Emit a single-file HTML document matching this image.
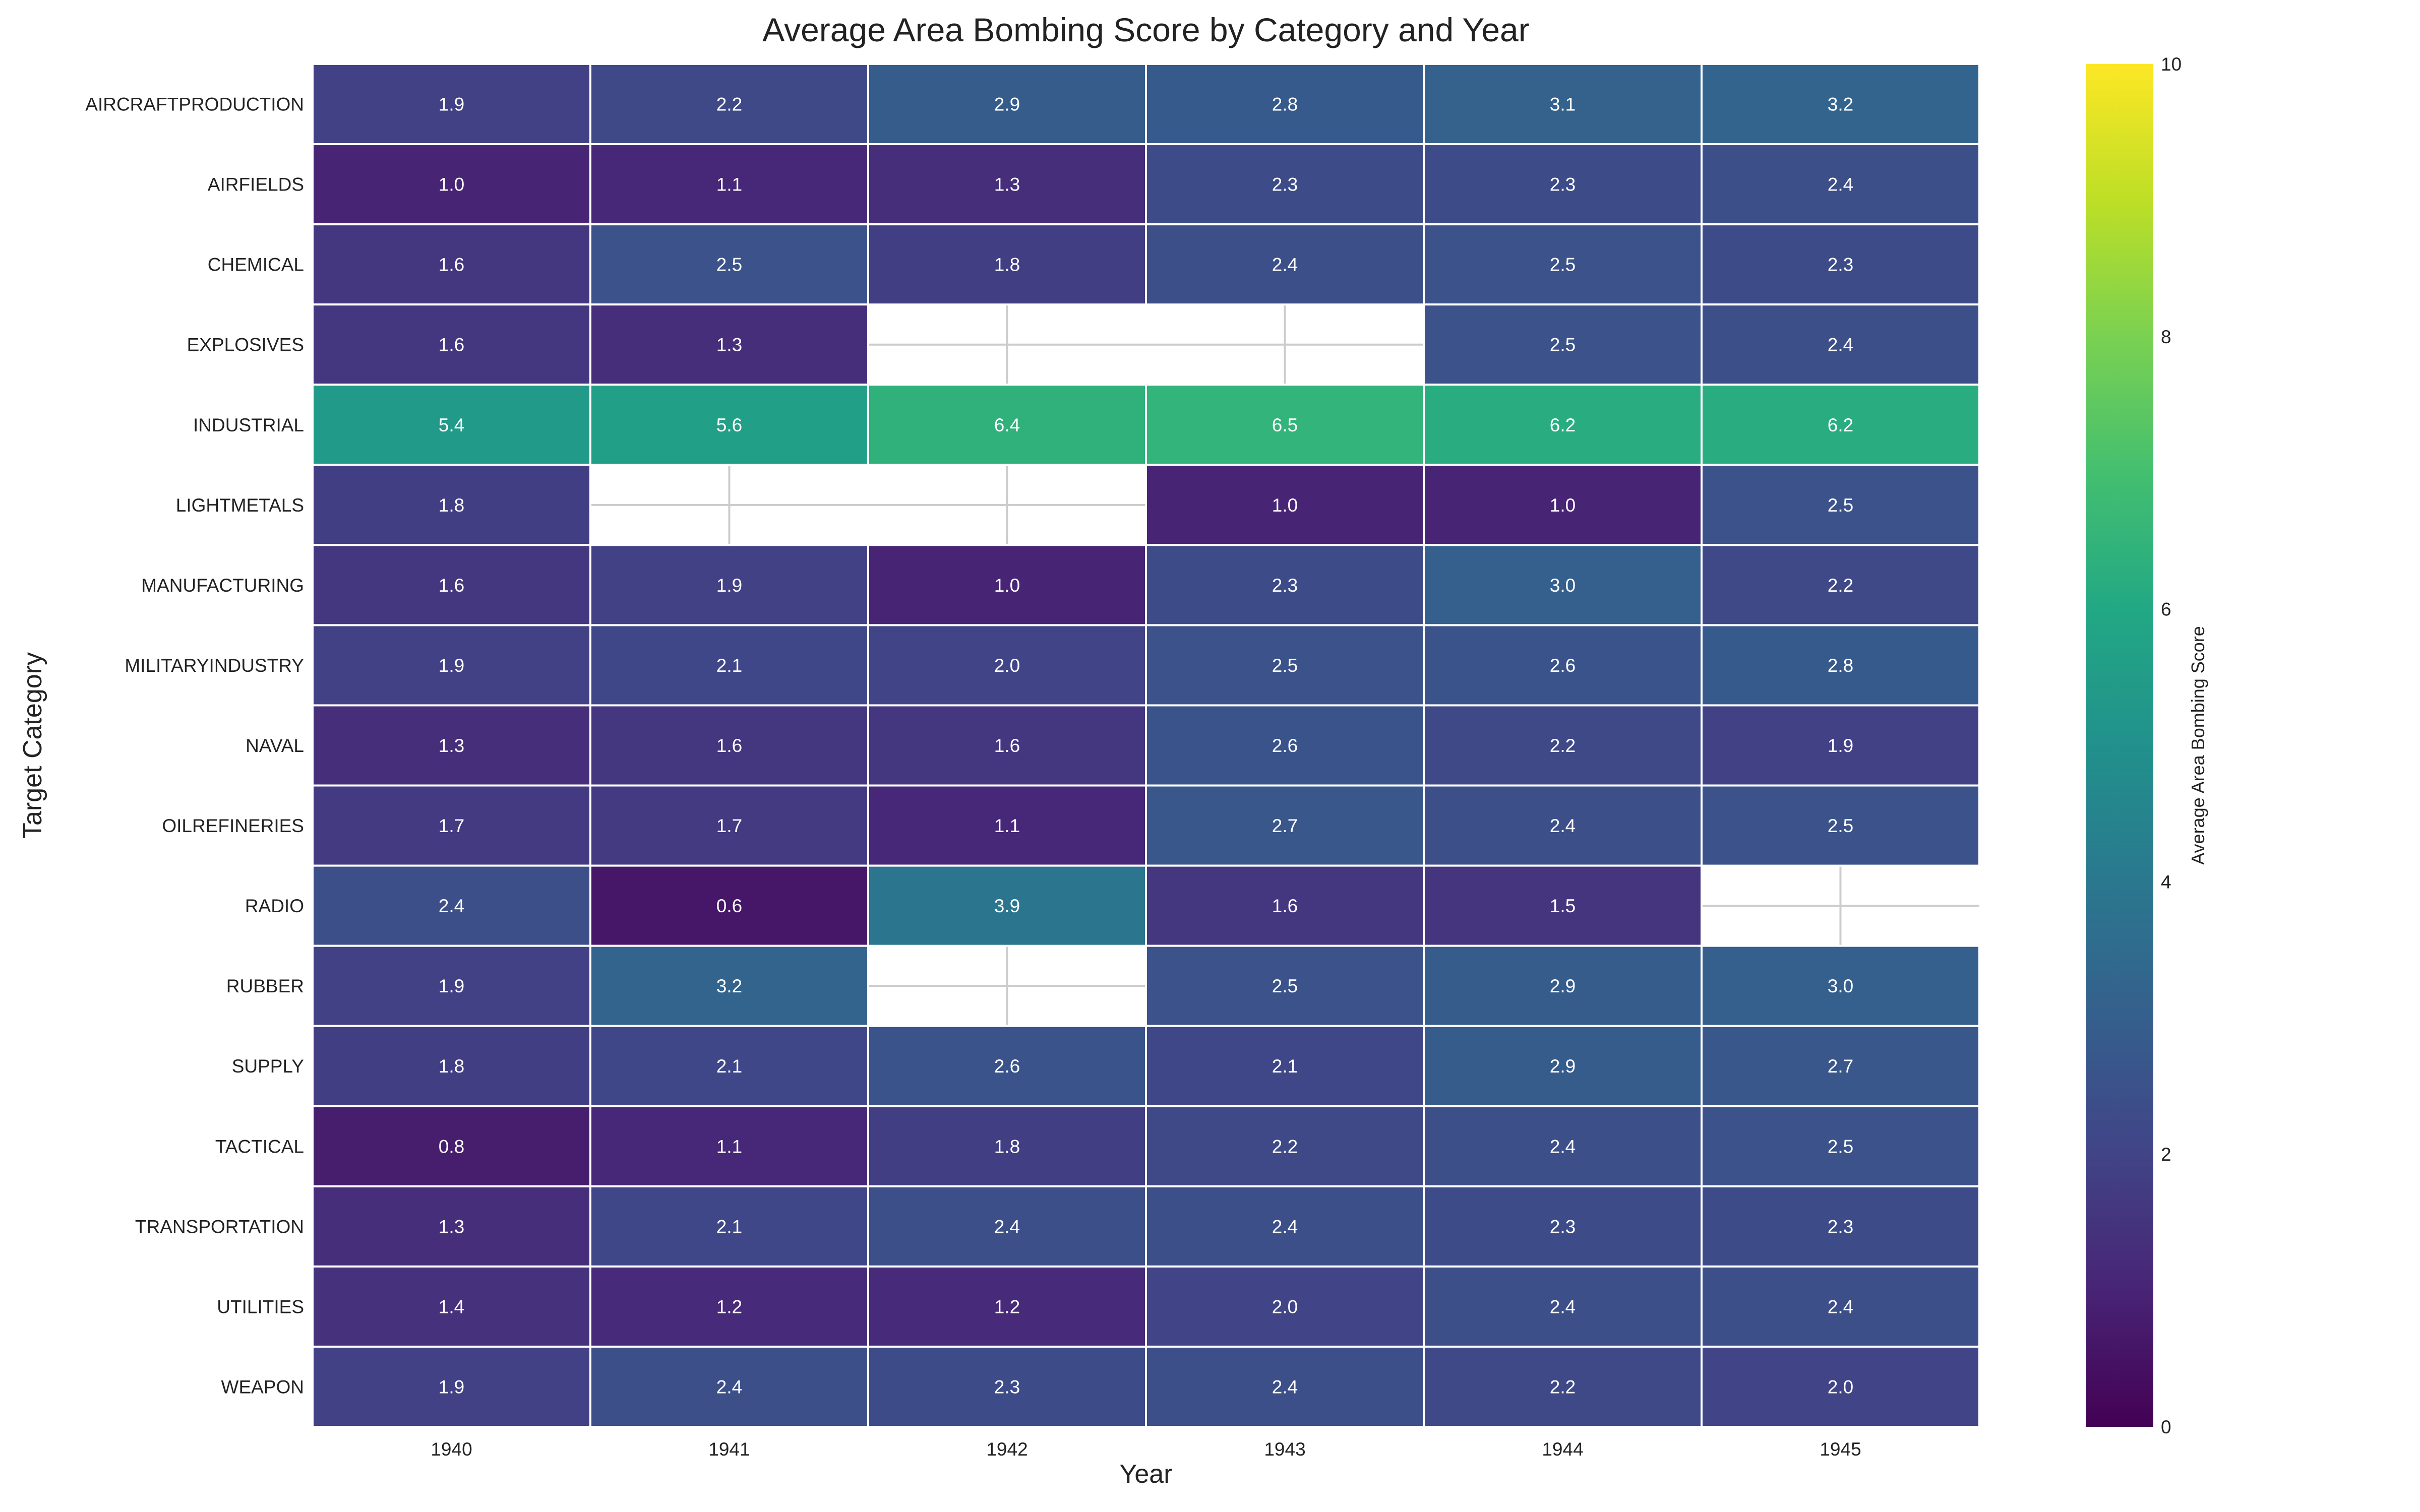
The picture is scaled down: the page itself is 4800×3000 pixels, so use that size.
<!DOCTYPE html>
<html><head><meta charset="utf-8"><style>
html,body{margin:0;padding:0;background:#fff}
svg{display:block;font-family:"Liberation Sans",sans-serif}
</style></head><body>
<svg id="chart" width="4800" height="3000" viewBox="0 0 4800 3000" xmlns="http://www.w3.org/2000/svg">
<defs><linearGradient id="vir" x1="0" y1="1" x2="0" y2="0">
<stop offset="0" stop-color="#440154"/><stop offset="0.1" stop-color="#482475"/><stop offset="0.2" stop-color="#414487"/><stop offset="0.3" stop-color="#355f8d"/><stop offset="0.4" stop-color="#2a788e"/><stop offset="0.5" stop-color="#21918c"/><stop offset="0.6" stop-color="#22a884"/><stop offset="0.7" stop-color="#44bf70"/><stop offset="0.8" stop-color="#7ad151"/><stop offset="0.9" stop-color="#bddf26"/><stop offset="1" stop-color="#fde725"/>
</linearGradient></defs>
<text x="2273" y="82" text-anchor="middle" font-size="66" fill="#222">Average Area Bombing Score by Category and Year</text>
<g id="grid"></g><g id="cells"></g><g id="labels"></g>
<text x="2273" y="2942" text-anchor="middle" font-size="52" fill="#222">Year</text>
<text transform="translate(82,1479) rotate(-90)" text-anchor="middle" font-size="52" fill="#222">Target Category</text>
<rect x="4137" y="127" width="134" height="2704" fill="url(#vir)"/>
<g id="cbticks"></g>
<text transform="translate(4372,1479) rotate(-90)" text-anchor="middle" font-size="36" fill="#222">Average Area Bombing Score</text>
</svg>
<script>
const categories=["AIRCRAFTPRODUCTION","AIRFIELDS","CHEMICAL","EXPLOSIVES","INDUSTRIAL","LIGHTMETALS","MANUFACTURING","MILITARYINDUSTRY","NAVAL","OILREFINERIES","RADIO","RUBBER","SUPPLY","TACTICAL","TRANSPORTATION","UTILITIES","WEAPON"];
const years=["1940","1941","1942","1943","1944","1945"];
const v1940=[1.9,1.0,1.6,1.6,5.4,1.8,1.6,1.9,1.3,1.7,2.4,1.9,1.8,0.8,1.3,1.4,1.9];
const v1941=[2.2,1.1,2.5,1.3,5.6,null,1.9,2.1,1.6,1.7,0.6,3.2,2.1,1.1,2.1,1.2,2.4];
const v1942=[2.9,1.3,1.8,null,6.4,null,1.0,2.0,1.6,1.1,3.9,null,2.6,1.8,2.4,1.2,2.3];
const v1943=[2.8,2.3,2.4,null,6.5,1.0,2.3,2.5,2.6,2.7,1.6,2.5,2.1,2.2,2.4,2.0,2.4];
const v1944=[3.1,2.3,2.5,2.5,6.2,1.0,3.0,2.6,2.2,2.4,1.5,2.9,2.9,2.4,2.3,2.4,2.2];
const v1945=[3.2,2.4,2.3,2.4,6.2,2.5,2.2,2.8,1.9,2.5,null,3.0,2.7,2.5,2.3,2.4,2.0];
const cbTicks=[0,2,4,6,8,10];
const series=[v1940,v1941,v1942,v1943,v1944,v1945];
const NS="http://www.w3.org/2000/svg";
const X0=620,X1=3926,Y0=127,Y1=2831,VMIN=0,VMAX=10;
const cw=(X1-X0)/years.length, ch=(Y1-Y0)/categories.length;
const xs=i=>X0+i*cw, ys=j=>Y0+j*ch;
const cbY=v=>Y1-(v-VMIN)/(VMAX-VMIN)*(Y1-Y0);
const stops=["#440154","#482475","#414487","#355f8d","#2a788e","#21918c","#22a884","#44bf70","#7ad151","#bddf26","#fde725"];
function hex(h){return [1,3,5].map(k=>parseInt(h.substr(k,2),16));}
function viridis(v){let t=Math.max(0,Math.min(1,(v-VMIN)/(VMAX-VMIN)))*10;let i=Math.min(9,Math.floor(t)),f=t-i;const a=hex(stops[i]),b=hex(stops[i+1]);return "rgb("+a.map((c,k)=>Math.round(c+(b[k]-c)*f)).join(",")+")";}
function mk(tag,attrs,parent,txt){const e=document.createElementNS(NS,tag);for(const k in attrs)e.setAttribute(k,attrs[k]);if(txt!==undefined)e.textContent=txt;parent.appendChild(e);return e;}
const grid=document.getElementById('grid'),cells=document.getElementById('cells'),labels=document.getElementById('labels'),cbt=document.getElementById('cbticks');
years.forEach((y,i)=>{const l=mk('line',{x1:xs(i)+cw/2,x2:xs(i)+cw/2,y1:Y0,y2:Y1,stroke:'#cccccc','stroke-width':4},grid);

});
categories.forEach((c,j)=>{const l=mk('line',{x1:X0,x2:X1,y1:ys(j)+ch/2,y2:ys(j)+ch/2,stroke:'#cccccc','stroke-width':4},grid);

});
series.forEach((arr,i)=>{arr.forEach((v,j)=>{if(v===null)return;
const r=mk('rect',{x:xs(i),y:ys(j),width:cw,height:ch,fill:viridis(v),stroke:'#ffffff','stroke-width':4},cells);


const t=mk('text',{x:xs(i)+cw/2,y:ys(j)+ch/2+13,'text-anchor':'middle','font-size':37,fill:'#ffffff'},cells,v.toFixed(1));

});});
categories.forEach((c,j)=>{const t=mk('text',{x:603,y:ys(j)+ch/2+13,'text-anchor':'end','font-size':37,fill:'#222'},labels,c);

});
years.forEach((y,i)=>{const t=mk('text',{x:xs(i)+cw/2,y:2888,'text-anchor':'middle','font-size':37,fill:'#222'},labels,y);

});
cbTicks.forEach(v=>{const t=mk('text',{x:4286,y:cbY(v)+13,'font-size':37,fill:'#222'},cbt,String(v));

});
</script>
</body></html>
